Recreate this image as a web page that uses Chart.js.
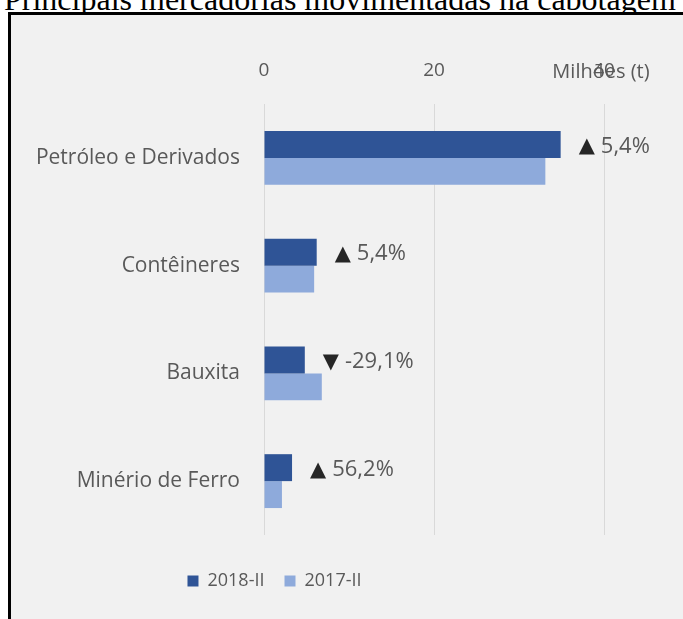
<!DOCTYPE html>
<html>
<head>
<meta charset="utf-8">
<script src="https://cdn.jsdelivr.net/npm/chart.js@4"></script>
<style>
  body { margin: 0; background: #fff; overflow: hidden; }
  #titulo {
    position: absolute; left: 4px; top: -19px;
    font-family: "Liberation Serif", "Times New Roman", serif;
    font-size: 32px; color: #000; white-space: nowrap;
  }
  #caixa {
    position: absolute; left: 8px; top: 12px; width: 700px; height: 640px;
    border-left: 3px solid #000; border-top: 3px solid #000;
    background: #f7f7f7;
  }
  #grafico { position: absolute; left: 11px; top: 15px; background: #f1f1f1; }
</style>
</head>
<body>
<div id="titulo">Principais mercadorias movimentadas na cabotagem</div>
<div id="caixa"></div>
<canvas id="grafico" width="672" height="604"></canvas>
<script>
const categorias = ['Petróleo e Derivados', 'Contêineres', 'Bauxita', 'Minério de Ferro'];
const valores2018 = [34.9, 6.2, 4.8, 3.3];
const valores2017 = [33.1, 5.9, 6.8, 2.11];
const setas = ['▲', '▲', '▼', '▲'];
const variacoes = ['5,4%', '5,4%', '-29,1%', '56,2%'];
const ticksX = [0, 20, 40];

const fonte = '"Open Sans", "DejaVu Sans", sans-serif';
const cinza = '#595959';

// rótulos de variação ao lado das barras de 2018 e a unidade no eixo
const rotulosVariacao = {
    id: 'rotulosVariacao',
    afterDatasetsDraw(chart) {
        const ctx = chart.ctx;
        const meta = chart.getDatasetMeta(0);
        ctx.save();
        ctx.textBaseline = 'middle';
        ctx.textAlign = 'left';
        meta.data.forEach((bar, i) => {
            const x = bar.x + 18;
            const y = bar.y + 2;
            ctx.font = '21px ' + fonte;
            ctx.fillStyle = '#262626';
            ctx.fillText(setas[i], x, y);
            const w = ctx.measureText(setas[i]).width;
            ctx.font = '22px ' + fonte;
            ctx.fillStyle = cinza;
            ctx.fillText(variacoes[i], x + w + 6, y);
        });
        ctx.font = '20px ' + fonte;
        ctx.textAlign = 'center';
        ctx.fillStyle = cinza;
        ctx.fillText('Milhões (t)', chart.scales.x.getPixelForValue(40) - 3, 57);
        ctx.restore();
    },
    afterLayout(chart) {
        // legenda um pouco à esquerda e mais abaixo
        const lg = chart.legend;
        lg.left -= 33; lg.right -= 33;
        lg.top += 17; lg.bottom += 17;
    }
};

new Chart(document.getElementById('grafico'), {
    type: 'bar',
    data: {
        labels: categorias,
        datasets: [
            { label: '2018-II', data: valores2018, backgroundColor: '#2f5496' },
            { label: '2017-II', data: valores2017, backgroundColor: '#8eaadb' }
        ]
    },
    options: {
        indexAxis: 'y',
        responsive: false,
        animation: false,
        devicePixelRatio: 1,
        layout: { padding: { left: 0, right: 79, top: 0, bottom: 36 } },
        datasets: { bar: { categoryPercentage: 0.5, barPercentage: 1.0 } },
        scales: {
            x: {
                position: 'top',
                min: 0, max: 40,
                afterBuildTicks(scale) { scale.ticks = ticksX.map(v => ({ value: v })); },
                afterFit(scale) { scale.height = 89; },
                grid: { color: '#d9d9d9', drawTicks: false },
                border: { display: false },
                ticks: { color: cinza, font: { family: fonte, size: 19 }, padding: 22 }
            },
            y: {
                afterFit(scale) { scale.width = 253; },
                grid: { display: false, drawTicks: false },
                border: { display: false },
                ticks: { color: cinza, font: { family: fonte, size: 21 }, padding: 24 }
            }
        },
        plugins: {
            legend: {
                position: 'bottom',
                labels: { boxWidth: 11, boxHeight: 11, color: cinza, font: { family: fonte, size: 18 }, padding: 20 }
            },
            tooltip: { enabled: false }
        }
    },
    plugins: [rotulosVariacao]
});
</script>
</body>
</html>
